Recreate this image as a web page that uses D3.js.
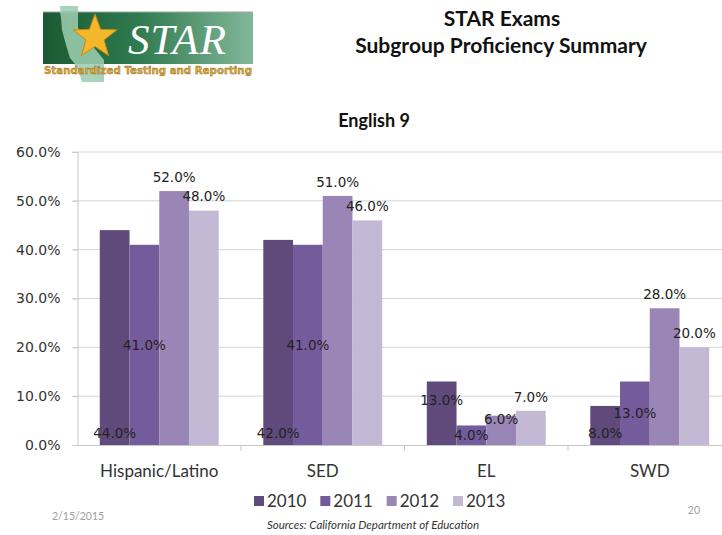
<!DOCTYPE html>
<html>
<head>
<meta charset="utf-8">
<script src="https://cdn.jsdelivr.net/npm/d3@7"></script>
<style>
  body { margin: 0; background: #fff; }
  svg { display: block; }
  .cat { font-family: Lato, "Open Sans", sans-serif; font-size: 17px; fill: #333; }
  .tick text { font-family: "DejaVu Sans", sans-serif; font-size: 14px; fill: #333; }
  .lbl { font-family: "DejaVu Sans", sans-serif; font-size: 13.5px; fill: #222; }
</style>
</head>
<body>
<div id="chart"></div>
<script>
// chart values
const categories = ["Hispanic/Latino", "SED", "EL", "SWD"];
const years = ["2010", "2011", "2012", "2013"];
const v2010 = [44, 42, 13, 8];
const v2011 = [41, 41, 4, 13];
const v2012 = [52, 51, 6, 28];
const v2013 = [48, 46, 7, 20];
const yTicks = [0, 10, 20, 30, 40, 50, 60];

// how each data label sits on its bar (one row per category)
const labelPlace = [
  ["base", "center", "out", "out"],
  ["base", "center", "out", "out"],
  ["below", "center", "edge", "out"],
  ["base", "center", "out", "out"]
];

const colors = ["#5f4a7b", "#745b9b", "#9a86b6", "#c4b9d5"];

const width = 722, height = 535;
const margin = { top: 152, right: -9.5, bottom: 90, left: 77.5 };

const svg = d3.select("#chart").append("svg")
  .attr("width", width)
  .attr("height", height);

// ---- logo ----
const logo = svg.append("g");
const defs = svg.append("defs");
const grad = defs.append("linearGradient").attr("id", "lg").attr("x1", "0").attr("x2", "1");
grad.append("stop").attr("offset", "0").attr("stop-color", "#1a5a32");
grad.append("stop").attr("offset", "0.45").attr("stop-color", "#2f7a4e");
grad.append("stop").attr("offset", "1").attr("stop-color", "#82b89a");

// state outline behind the banner
logo.append("path")
  .attr("d", "M60,6 L78,6 L78,28 L104,60 L104,82 L82,82 L78,70 L70,58 L66,45 L62,30 L61,18 Z")
  .attr("fill", "#a9d3bb");
logo.append("rect")
  .attr("x", 43).attr("y", 12).attr("width", 210).attr("height", 52)
  .attr("fill", "url(#lg)");
logo.append("line")
  .attr("x1", 43).attr("x2", 253).attr("y1", 12).attr("y2", 12)
  .attr("stroke", "#9aa8a0").attr("stroke-width", 1);
logo.append("path")
  .attr("d", "M60,12 L78,12 L78,28 L104,60 L104,64 L75,64 L70,58 L66,45 L62,30 L61,18 Z")
  .attr("fill", "#9fcfb2").attr("opacity", 0.85);

const star = d3.range(10).map(i => {
  const r = i % 2 === 0 ? 23 : 9.5;
  const a = -Math.PI / 2 + i * Math.PI / 5;
  return [95 + r * Math.cos(a), 37 + r * Math.sin(a)];
});
logo.append("polygon")
  .attr("points", star.map(p => p.join(",")).join(" "))
  .attr("fill", "#f5b72a").attr("stroke", "#c98a16").attr("stroke-width", 1);

logo.append("text")
  .attr("x", 128).attr("y", 54)
  .attr("font-family", "Liberation Serif, serif")
  .attr("font-style", "italic")
  .attr("font-size", 43)
  .attr("fill", "#fff")
  .attr("textLength", 98)
  .text("STAR");

logo.append("text")
  .attr("x", 44).attr("y", 74)
  .attr("font-family", "DejaVu Sans, sans-serif")
  .attr("font-weight", "bold")
  .attr("font-size", 10.5)
  .attr("fill", "#e2aa3a")
  .attr("stroke", "#8a6a20").attr("stroke-width", 0.4)
  .attr("textLength", 208)
  .attr("lengthAdjust", "spacingAndGlyphs")
  .text("Standardized Testing and Reporting");

// ---- slide titles ----
svg.append("text")
  .attr("x", 502).attr("y", 26)
  .attr("text-anchor", "middle")
  .attr("font-family", "Lato, sans-serif").attr("font-weight", "bold")
  .attr("font-size", 21).attr("fill", "#111")
  .text("STAR Exams");
svg.append("text")
  .attr("x", 501).attr("y", 53)
  .attr("text-anchor", "middle")
  .attr("font-family", "Lato, sans-serif").attr("font-weight", "bold")
  .attr("font-size", 21).attr("fill", "#111")
  .text("Subgroup Proficiency Summary");

// chart title
svg.append("text")
  .attr("x", 374).attr("y", 127)
  .attr("text-anchor", "middle")
  .attr("font-family", "Lato, sans-serif").attr("font-weight", "bold")
  .attr("font-size", 18).attr("fill", "#111")
  .text("English 9");

// ---- plot ----
const innerW = width - margin.left - margin.right;
const innerH = height - margin.top - margin.bottom;

const x0 = d3.scaleBand().domain(categories).range([0, innerW]).padding(0);
const x1 = d3.scaleBand().domain(years).range([0, x0.bandwidth()])
  .paddingInner(0).paddingOuter(0.75);
const y = d3.scaleLinear().domain([0, 60]).range([innerH, 0]);

const g = svg.append("g")
  .attr("transform", "translate(" + margin.left + "," + margin.top + ")");

// gridlines
g.append("g")
  .selectAll("line")
  .data(yTicks.filter(d => d > 0))
  .join("line")
  .attr("x1", -5).attr("x2", innerW)
  .attr("y1", d => y(d)).attr("y2", d => y(d))
  .attr("stroke", "#d4d4d4");

// y axis
const yAxis = g.append("g")
  .call(d3.axisLeft(y).tickValues(yTicks).tickFormat(d => d.toFixed(1) + "%").tickSize(5).tickPadding(12));
yAxis.select(".domain").attr("stroke", "#c8c8c8");
yAxis.selectAll(".tick line").attr("stroke", "#c8c8c8");

// x axis
const xAxis = g.append("g")
  .attr("transform", "translate(0," + innerH + ")")
  .call(d3.axisBottom(x0).tickSize(0).tickFormat(""));
xAxis.select(".domain").attr("stroke", "#c8c8c8");
xAxis.selectAll(".sep")
  .data(d3.range(1, categories.length))
  .join("line")
  .attr("x1", d => x0.step() * d).attr("x2", d => x0.step() * d)
  .attr("y1", 0).attr("y2", 6)
  .attr("stroke", "#c8c8c8");

g.append("g")
  .selectAll("text")
  .data(categories)
  .join("text")
  .attr("class", "cat")
  .attr("x", d => x0(d) + x0.bandwidth() / 2)
  .attr("y", innerH + 32)
  .attr("text-anchor", "middle")
  .text(d => d);

// bars
const series = [v2010, v2011, v2012, v2013];
const cells = [];
categories.forEach((c, ci) => {
  years.forEach((yr, si) => {
    cells.push({ cat: c, year: yr, si: si, value: series[si][ci], place: labelPlace[ci][si] });
  });
});

g.append("g")
  .selectAll("rect")
  .data(cells)
  .join("rect")
  .attr("x", d => x0(d.cat) + x1(d.year))
  .attr("y", d => y(d.value))
  .attr("width", x1.bandwidth())
  .attr("height", d => y(0) - y(d.value))
  .attr("fill", d => colors[d.si]);

function labelY(d) {
  const top = y(d.value), base = y(0);
  if (d.place === "base") return base - 12;
  if (d.place === "center") return (top + base) / 2;
  if (d.place === "below") return top + 19;
  if (d.place === "edge") return top + 3;
  return top - 14;
}

g.append("g")
  .selectAll("text")
  .data(cells)
  .join("text")
  .attr("class", "lbl")
  .attr("x", d => x0(d.cat) + x1(d.year) + x1.bandwidth() / 2)
  .attr("y", labelY)
  .attr("dy", "0.36em")
  .attr("text-anchor", "middle")
  .text(d => d.value.toFixed(1) + "%");

// legend
const lx = d3.scalePoint().domain(years).range([254, 453]);
const leg = svg.append("g").selectAll("g")
  .data(years)
  .join("g")
  .attr("transform", d => "translate(" + lx(d) + ",501)");
leg.append("rect")
  .attr("x", 0).attr("y", -5).attr("width", 10).attr("height", 10)
  .attr("fill", (d, i) => colors[i]);
leg.append("text")
  .attr("x", 13).attr("dy", "0.36em")
  .attr("font-family", "Lato, sans-serif").attr("font-size", 17).attr("fill", "#333")
  .text(d => d);

// footer
svg.append("text")
  .attr("x", 52).attr("y", 520)
  .attr("font-family", "Lato, sans-serif").attr("font-size", 10.5).attr("fill", "#a0a0a0")
  .text("2/15/2015");
svg.append("text")
  .attr("x", 700).attr("y", 514)
  .attr("text-anchor", "end")
  .attr("font-family", "Lato, sans-serif").attr("font-size", 10.5).attr("fill", "#a0a0a0")
  .text("20");
svg.append("text")
  .attr("x", 373).attr("y", 529)
  .attr("text-anchor", "middle")
  .attr("font-family", "Lato, sans-serif").attr("font-style", "italic")
  .attr("font-size", 11.5).attr("fill", "#333")
  .text("Sources:  California Department of Education");
</script>
</body>
</html>
